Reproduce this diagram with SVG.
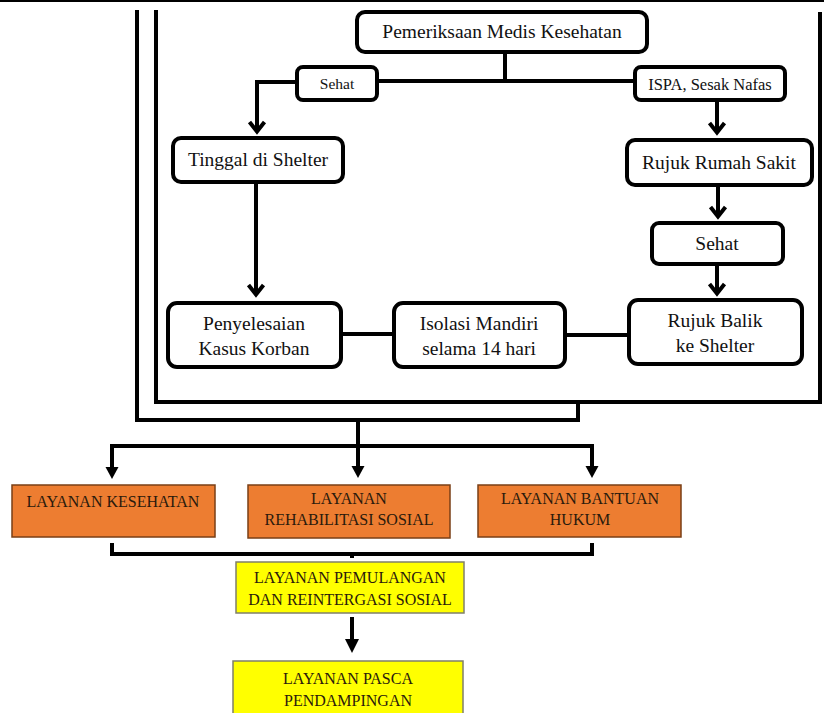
<svg xmlns="http://www.w3.org/2000/svg" width="824" height="713" viewBox="0 0 824 713">
<style>
.rb{fill:#fff;stroke:#000;stroke-width:4}
.t{font-family:"Liberation Serif","Times New Roman",serif;fill:#111;text-anchor:middle}
.big{font-size:19.5px}
.sm{font-size:16px}
.org{fill:#ED7D31;stroke:#7a3f16;stroke-width:1.5}
.yel{fill:#FFFF00;stroke:#7f7f6a;stroke-width:1.5}
.cap{font-family:"Liberation Serif","Times New Roman",serif;font-size:16px;fill:#2a1a0c;text-anchor:middle}
.ln{fill:none;stroke:#000;stroke-width:4}
</style>
<defs>
<marker id="chev" markerUnits="userSpaceOnUse" orient="auto" refX="0" refY="0" markerWidth="30" markerHeight="30" viewBox="-15 -15 30 30" overflow="visible">
<path d="M-10,-7.5 L-0.5,0 L-10,7.5" fill="none" stroke="#000" stroke-width="4"/>
</marker>
<marker id="tri" markerUnits="userSpaceOnUse" orient="auto" refX="0" refY="0" markerWidth="30" markerHeight="30" viewBox="-15 -15 30 30" overflow="visible">
<path d="M-3,-6.5 L9,0 L-3,6.5 z" fill="#000"/>
</marker>
<marker id="tri2" markerUnits="userSpaceOnUse" orient="auto" refX="0" refY="0" markerWidth="30" markerHeight="30" viewBox="-15 -15 30 30" overflow="visible">
<path d="M-3,-7 L11,0 L-3,7 z" fill="#000"/>
</marker>
</defs>
<rect width="824" height="713" fill="#fff"/>
<line x1="0" y1="1" x2="824" y2="1" stroke="#000" stroke-width="2"/>

<g id="frames">
<path class="ln" d="M137,10 V420 H578 V402"/>
<path class="ln" d="M156,10 V402 H820 V12"/>
</g>

<g id="connectors">
<path class="ln" d="M505,52 V81"/>
<path class="ln" d="M377,81 H635"/>
<path class="ln" d="M297,82 H257 V132" marker-end="url(#chev)"/>
<path class="ln" d="M717,100 V133" marker-end="url(#chev)"/>
<path class="ln" d="M718,185 V217" marker-end="url(#chev)"/>
<path class="ln" d="M717,264 V294" marker-end="url(#chev)"/>
<path class="ln" d="M256,182 V295" marker-end="url(#chev)"/>
<path class="ln" d="M341,334 H394"/>
<path class="ln" d="M565,335 H629"/>
<path class="ln" d="M358,420 V469" marker-end="url(#tri)"/>
<path class="ln" d="M112,469 V446 H592 V469" marker-end="url(#tri)"/>
<path class="ln" d="M112,469 V470" marker-end="url(#tri)"/>
<path class="ln" d="M112,543 V554 H592 V543"/>
<path class="ln" d="M352,554 V558"/>
<path class="ln" d="M352,617 V642" marker-end="url(#tri2)"/>
</g>

<g id="n-pemeriksaan">
<rect class="rb" x="357" y="12" width="290" height="40" rx="8"/>
<text class="t big" x="502" y="38">Pemeriksaan Medis Kesehatan</text>
</g>
<g id="n-sehat1">
<rect class="rb" x="297" y="67" width="80" height="33" rx="6"/>
<text class="t" style="font-size:15.5px" x="337" y="89">Sehat</text>
</g>
<g id="n-ispa">
<rect class="rb" x="635" y="67" width="150" height="33" rx="6"/>
<text class="t" style="font-size:16.5px" x="710" y="90">ISPA, Sesak Nafas</text>
</g>
<g id="n-tinggal">
<rect class="rb" x="173" y="138" width="170" height="44" rx="8"/>
<text class="t big" x="258" y="166">Tinggal di Shelter</text>
</g>
<g id="n-rujuk-rs">
<rect class="rb" x="627" y="140" width="185" height="45" rx="8"/>
<text class="t big" x="719" y="169">Rujuk Rumah Sakit</text>
</g>
<g id="n-sehat2">
<rect class="rb" x="652" y="223" width="131" height="41" rx="7"/>
<text class="t big" x="717" y="250">Sehat</text>
</g>
<g id="n-penyelesaian">
<rect class="rb" x="168" y="303" width="173" height="64" rx="9"/>
<text class="t big" x="254" y="330">Penyelesaian</text>
<text class="t big" x="254" y="355">Kasus Korban</text>
</g>
<g id="n-isolasi">
<rect class="rb" x="394" y="303" width="171" height="64" rx="9"/>
<text class="t big" x="479" y="330">Isolasi Mandiri</text>
<text class="t big" x="479" y="355">selama 14 hari</text>
</g>
<g id="n-rujuk-balik">
<rect class="rb" x="629" y="300" width="173" height="64" rx="9"/>
<text class="t big" x="715" y="327">Rujuk Balik</text>
<text class="t big" x="715" y="352">ke Shelter</text>
</g>

<g id="n-kesehatan">
<rect class="org" x="12" y="485" width="203" height="52"/>
<text class="cap" x="113" y="507">LAYANAN KESEHATAN</text>
</g>
<g id="n-rehabilitasi">
<rect class="org" x="248" y="485" width="202" height="53"/>
<text class="cap" x="349" y="504">LAYANAN</text>
<text class="cap" x="349" y="525">REHABILITASI SOSIAL</text>
</g>
<g id="n-bantuan">
<rect class="org" x="478" y="485" width="203" height="52"/>
<text class="cap" x="580" y="504">LAYANAN BANTUAN</text>
<text class="cap" x="580" y="525">HUKUM</text>
</g>
<g id="n-pemulangan">
<rect class="yel" x="236" y="562" width="228" height="51"/>
<text class="cap" x="350" y="583">LAYANAN PEMULANGAN</text>
<text class="cap" x="350" y="605">DAN REINTERGASI SOSIAL</text>
</g>
<g id="n-pasca">
<rect class="yel" x="233" y="661" width="230" height="60"/>
<text class="cap" x="348" y="684">LAYANAN PASCA</text>
<text class="cap" x="348" y="706">PENDAMPINGAN</text>
</g>
</svg>
